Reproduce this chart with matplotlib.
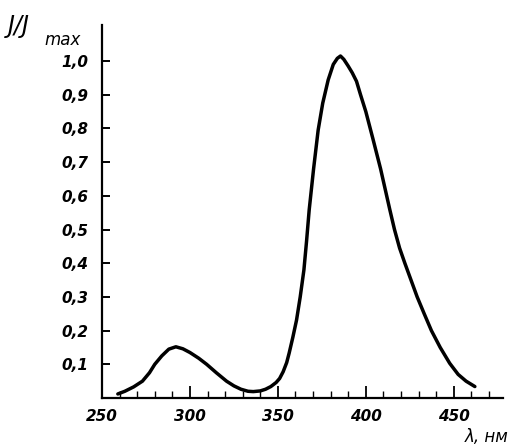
"""Relative emission spectrum J/Jmax vs wavelength"""
import matplotlib
matplotlib.use("Agg")
import matplotlib.pyplot as plt
from matplotlib.ticker import MultipleLocator, FixedLocator, FuncFormatter

# values
wavelength = [259, 263, 268, 273, 277, 280, 284, 288, 292, 296, 300, 305,
              309.5, 315, 320.8, 325, 329, 333, 336, 340, 343, 346, 349, 351,
              353, 355, 356.4, 358.5, 360.6, 362.7, 364.8, 366.3, 367.8,
              370.3, 372.9, 375.5, 378.6, 381.5, 383.8, 385.6, 387.5, 390,
              392.3, 394.7, 397, 400, 404, 408.4, 413.6, 416.3, 419.2, 422.2,
              425.7, 429.2, 433.2, 437.3, 442.3, 447.7, 452.5, 457, 462]
intensity = [0.012, 0.02, 0.033, 0.05, 0.075, 0.1, 0.125, 0.145, 0.152,
             0.146, 0.135, 0.118, 0.1, 0.075, 0.05, 0.036, 0.026, 0.02, 0.019,
             0.021, 0.026, 0.034, 0.046, 0.058, 0.078, 0.105, 0.133, 0.18,
             0.231, 0.3, 0.38, 0.465, 0.558, 0.68, 0.795, 0.875, 0.944, 0.99,
             1.008, 1.015, 1.005, 0.985, 0.965, 0.94, 0.9, 0.85, 0.77, 0.68,
             0.56, 0.5, 0.445, 0.4, 0.35, 0.3, 0.25, 0.2, 0.15, 0.103,
             0.07, 0.05, 0.034]

y_ticks = [0.1, 0.2, 0.3, 0.4, 0.5, 0.6, 0.7, 0.8, 0.9, 1.0]
x_ticks = [250, 300, 350, 400, 450]

plt.rcParams['font.family'] = ['DejaVu Sans']

fig = plt.figure(figsize=(5.12, 4.48), dpi=100)
ax = fig.add_axes([102 / 512, 50 / 448, 401 / 512, 373 / 448])

ax.plot(wavelength, intensity, color='black', linewidth=2.5,
        solid_joinstyle='round', solid_capstyle='round')

ax.set_xlim(250, 478)
ax.set_ylim(0, 1.107)

for side in ('top', 'right'):
    ax.spines[side].set_visible(False)
for side in ('left', 'bottom'):
    ax.spines[side].set_linewidth(1.6)

ax.yaxis.set_major_locator(FixedLocator(y_ticks))
ax.yaxis.set_major_formatter(FuncFormatter(lambda v, p: f"{v:.1f}".replace('.', ',')))
ax.xaxis.set_major_locator(FixedLocator(x_ticks))
ax.xaxis.set_minor_locator(MultipleLocator(10))

ax.tick_params(axis='y', direction='in', length=6, width=1.4, pad=10,
               labelsize=11)
ax.tick_params(axis='x', which='major', direction='in', length=9, width=1.3,
               pad=8, labelsize=11)
ax.tick_params(axis='x', which='minor', direction='in', length=5, width=1.0)

for lbl in ax.get_xticklabels() + ax.get_yticklabels():
    lbl.set_fontstyle('italic')
    lbl.set_fontweight('bold')

fig.text(8 / 512, 1 - 26 / 448, "Ј/Ј", fontsize=17, fontstyle='italic',
         va='center', ha='left')
fig.text(44 / 512, 1 - 40 / 448, "max", fontsize=12, fontstyle='italic',
         va='center', ha='left')
fig.text(508 / 512, 1 - 437 / 448, "λ, нм", fontsize=12, fontstyle='italic',
         va='center', ha='right')

fig.savefig('out.png', dpi=100)
